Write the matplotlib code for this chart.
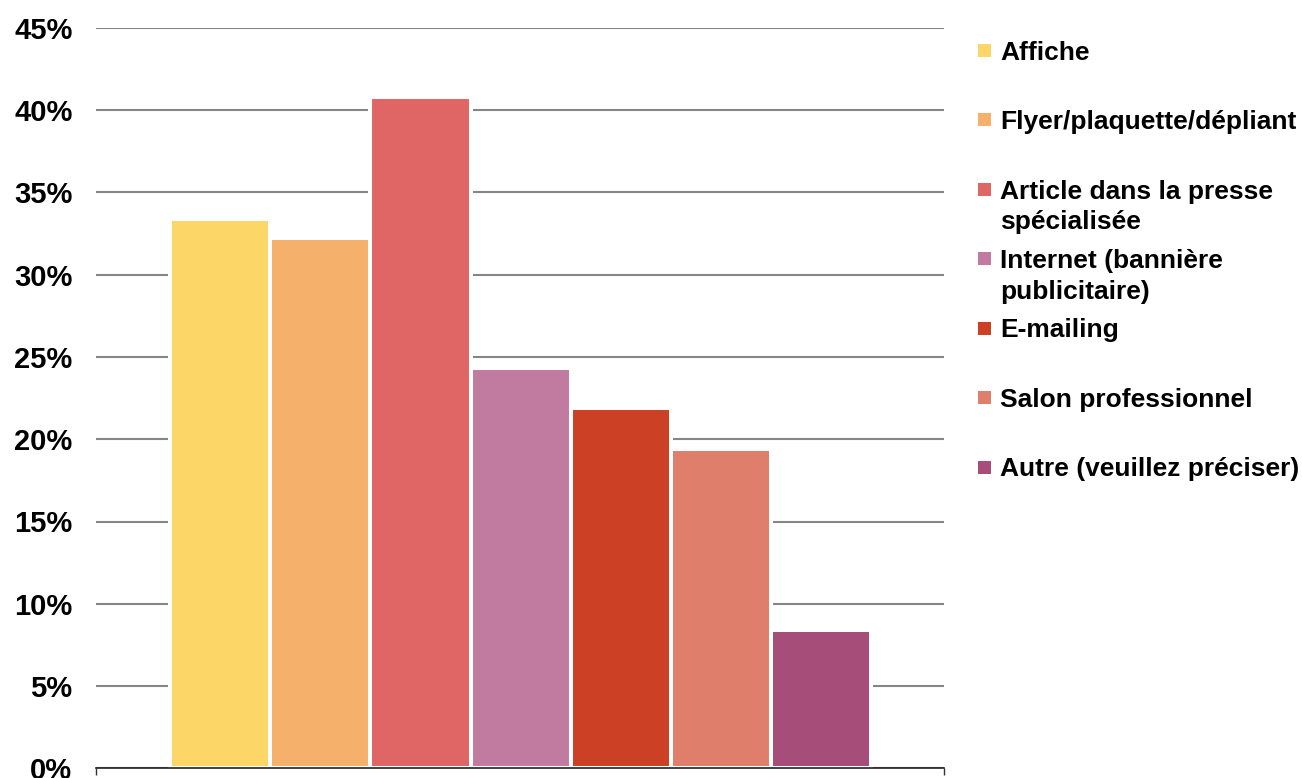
import matplotlib.pyplot as plt
from matplotlib.patches import Rectangle

# Données
categories = ['Affiche', 'Flyer/plaquette/dépliant', 'Article dans la presse\nspécialisée',
              'Internet (bannière\npublicitaire)', 'E-mailing', 'Salon professionnel',
              'Autre (veuillez préciser)']
values = [33.4, 32.2, 40.8, 24.3, 21.9, 19.4, 8.4]
colors = ['#FCD667', '#F5B16C', '#E06665', '#C27BA0', '#CC4125', '#DF7E6B', '#A64D79']
yticks = [0, 5, 10, 15, 20, 25, 30, 35, 40, 45]

plt.rcParams['font.family'] = ['Liberation Sans', 'DejaVu Sans']
plt.rcParams['font.weight'] = 'bold'

fig = plt.figure(figsize=(13.02, 7.78), dpi=100)
ax = fig.add_axes([96 / 1302, 1 - 768.4 / 778, 848 / 1302, (768.4 - 27.7) / 778])

x = list(range(len(values)))
ax.bar(x, [v / 100 for v in values], width=1.0, color=colors, edgecolor='white',
       linewidth=2.9, zorder=3)

x0, x1 = -1.24, 7.225
ax.set_xlim(x0, x1)
ax.set_ylim(0, 0.45)
ax.set_yticks([t / 100 for t in yticks])
ax.set_yticklabels([f'{t}%' for t in yticks], fontsize=21, fontweight='bold')
ax.tick_params(axis='y', length=0, pad=17)
ax.yaxis.grid(True, color='#858585', linewidth=1.5, zorder=0)
ax.set_axisbelow(True)

ax.set_xticks([x0, x1])
ax.set_xticklabels(['', ''])
ax.tick_params(axis='x', direction='out', length=5, width=1, color='#333333')

for s in ['top', 'right', 'left']:
    ax.spines[s].set_visible(False)
ax.spines['bottom'].set_color('#222222')
ax.spines['bottom'].set_linewidth(1.2)
ax.spines['bottom'].set_zorder(4)

# Légende à droite
W, H = 1302, 778
for i, (lab, c) in enumerate(zip(categories, colors)):
    yc = 50 + 69.5 * i
    fig.patches.append(Rectangle((978 / W, 1 - (yc + 6.5) / H), 13 / W, 13 / H,
                                 transform=fig.transFigure, facecolor=c, edgecolor='none'))
    fig.text(1000 / W, 1 - (yc - 9.5) / H, lab, fontsize=19, fontweight='bold',
             va='top', ha='left', linespacing=1.35)

fig.savefig('out.png', dpi=100)
